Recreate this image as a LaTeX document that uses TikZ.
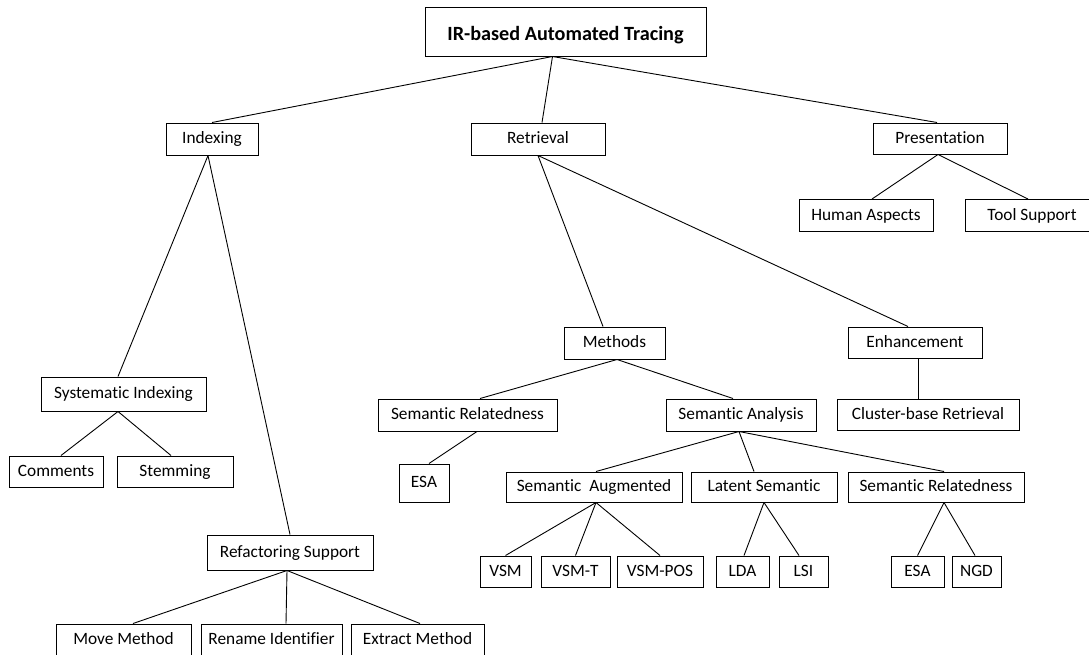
\documentclass[tikz,border=0pt]{standalone}
\usepackage{fontspec}
\setmainfont{Carlito}[Ligatures=NoCommon]
\usepackage{tikz}

\begin{document}
\begin{tikzpicture}[x=1pt, y=-1pt,
  bx/.style={draw, line width=1pt, inner sep=0pt, minimum height=32pt,
             text height=12pt, text depth=2.5pt,
             font=\fontsize{17.3}{20}\selectfont},
  ln/.style={line width=0.9pt}]
\useasboundingbox (0,0) rectangle (1089,654);
% top levels
\node[bx, minimum width=281pt, minimum height=49pt, text height=17pt, text depth=0pt,
      font=\fontsize{20.2}{24}\selectfont\bfseries] (root) at (565.5,31.5) {IR-based Automated Tracing};
\node[bx, minimum width=92pt] (idx) at (212,139) {Indexing};
\node[bx, minimum width=134pt] (ret) at (538,139) {Retrieval};
\node[bx, minimum width=134pt, minimum height=31pt] (pres) at (940,138.5) {Presentation};
\node[bx, minimum width=134pt] (hum) at (866,215.5) {Human Aspects};
\node[bx, minimum width=134pt] (tool) at (1032,215.5) {Tool Support};
% indexing branch
\node[bx, minimum width=165pt, minimum height=34pt] (sysidx) at (123.5,394) {Systematic Indexing};
\node[bx, minimum width=94pt, minimum height=31pt] (comm) at (56,471.5) {Comments};
\node[bx, minimum width=116pt, minimum height=31pt] (stem) at (175,471.5) {Stemming};
\node[bx, minimum width=166pt, minimum height=35pt] (refac) at (290,552.5) {Refactoring Support};
\node[bx, minimum width=135pt, minimum height=31pt] (move) at (123.5,639.5) {Move Method};
\node[bx, minimum width=141pt, minimum height=31pt] (ren) at (271.5,639.5) {Rename Identifier};
\node[bx, minimum width=133pt, minimum height=31pt] (ext) at (417.5,639.5) {Extract Method};
% retrieval branch
\node[bx, minimum width=101pt] (meth) at (614.5,343) {Methods};
\node[bx, minimum width=134pt, minimum height=31pt] (enh) at (915,342.5) {Enhancement};
\node[bx, minimum width=179pt] (srelA) at (467.5,415) {Semantic Relatedness};
\node[bx, minimum width=150pt] (sana) at (741,415) {Semantic Analysis};
\node[bx, minimum width=182pt, minimum height=31pt] (clus) at (928,414.5) {Cluster-base Retrieval};
\node[bx, minimum width=50pt, minimum height=38pt] (esaA) at (424,483) {ESA};
\node[bx, minimum width=176pt, minimum height=30pt] (saug) at (594,487) {Semantic\ \ Augmented};
\node[bx, minimum width=146pt, minimum height=30pt] (lat) at (764,487) {Latent Semantic};
\node[bx, minimum width=176pt, minimum height=30pt] (srelB) at (936,487) {Semantic Relatedness};
\node[bx, minimum width=51pt, minimum height=31pt] (vsm) at (505.5,571.5) {VSM};
\node[bx, minimum width=69pt, minimum height=31pt] (vsmt) at (575.5,571.5) {VSM-T};
\node[bx, minimum width=86pt, minimum height=31pt] (vsmpos) at (660,571.5) {VSM-POS};
\node[bx, minimum width=53pt, minimum height=31pt] (lda) at (742.5,571.5) {LDA};
\node[bx, minimum width=49pt, minimum height=31pt] (lsi) at (803.5,571.5) {LSI};
\node[bx, minimum width=53pt, minimum height=31pt] (esaB) at (917.5,571.5) {ESA};
\node[bx, minimum width=49pt, minimum height=31pt] (ngd) at (976.5,571.5) {NGD};
% links
\draw[ln] ([xshift=-13pt]root.south) -- (idx.north);
\draw[ln] ([xshift=-13pt]root.south) -- ([xshift=4pt]ret.north);
\draw[ln] ([xshift=-13pt]root.south) -- ([xshift=-3pt]pres.north);
\draw[ln] ([xshift=-2pt]pres.south) -- ([xshift=6pt]hum.north);
\draw[ln] ([xshift=-2pt]pres.south) -- ([xshift=-4pt]tool.north);
\draw[ln] ([xshift=-4pt]idx.south) -- ([xshift=-5.5pt]sysidx.north);
\draw[ln] ([xshift=-4pt]idx.south) -- (refac.north);
\draw[ln] ([xshift=-5.5pt]sysidx.south) -- ([xshift=5pt]comm.north);
\draw[ln] ([xshift=-5.5pt]sysidx.south) -- ([xshift=-4pt]stem.north);
\draw[ln] ([xshift=-3pt]refac.south) -- ([xshift=9.5pt]move.north);
\draw[ln] ([xshift=-3pt]refac.south) -- ([xshift=14.5pt]ren.north);
\draw[ln] ([xshift=-3pt]refac.south) -- ([xshift=2.5pt]ext.north);
\draw[ln] (ret.south) -- ([xshift=-11.5pt]meth.north);
\draw[ln] (ret.south) -- ([xshift=-7pt]enh.north);
\draw[ln] ([xshift=3pt]enh.south) -- ([xshift=-10pt]clus.north);
\draw[ln] ([xshift=2.5pt]meth.south) -- ([xshift=12.5pt]srelA.north);
\draw[ln] ([xshift=2.5pt]meth.south) -- ([xshift=-8pt]sana.north);
\draw[ln] ([xshift=9.5pt]srelA.south) -- ([xshift=5pt]esaA.north);
\draw[ln] ([xshift=-2pt]sana.south) -- ([xshift=2pt]saug.north);
\draw[ln] ([xshift=-2pt]sana.south) -- ([xshift=-10pt]lat.north);
\draw[ln] ([xshift=-2pt]sana.south) -- ([xshift=8pt]srelB.north);
\draw[ln] ([xshift=2pt]saug.south) -- (vsm.north);
\draw[ln] ([xshift=2pt]saug.south) -- (vsmt.north);
\draw[ln] ([xshift=2pt]saug.south) -- (vsmpos.north);
\draw[ln] (lat.south) -- ([xshift=1.5pt]lda.north);
\draw[ln] (lat.south) -- ([xshift=-4.5pt]lsi.north);
\draw[ln] ([xshift=8pt]srelB.south) -- (esaB.north);
\draw[ln] ([xshift=8pt]srelB.south) -- ([xshift=-1.5pt]ngd.north);
\end{tikzpicture}
\end{document}
